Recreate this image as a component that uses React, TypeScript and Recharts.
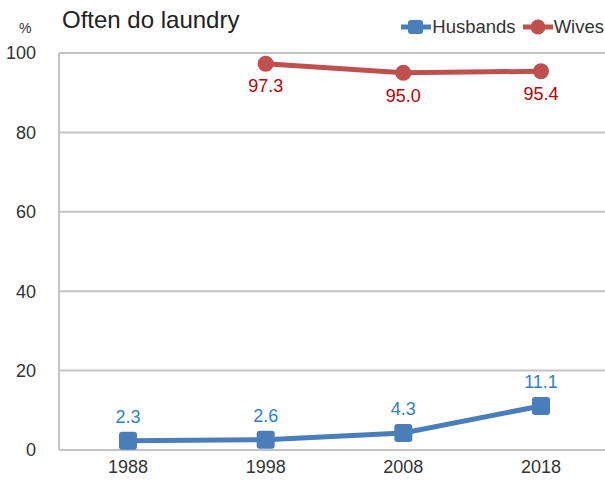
import React from "react";
import { CartesianGrid, LabelList, Line, LineChart, XAxis, YAxis } from "recharts";

const years = ["1988", "1998", "2008", "2018"];
const husbands = [2.3, 2.6, 4.3, 11.1];
const wives: (number | null)[] = [null, 97.3, 95.0, 95.4];
const yTicks = [0, 20, 40, 60, 80, 100];

const data = years.map((year, i) => ({ year, husbands: husbands[i], wives: wives[i] }));

const blue = "#4A7EBB";
const red = "#C0504D";
const font = "'Liberation Sans', Arial, sans-serif";

function SquareDot(props: any) {
  const { cx, cy } = props;
  if (cx == null || cy == null) return null;
  return <rect x={cx - 9} y={cy - 9} width={18} height={18} rx={3} fill={blue} />;
}

function LegendBox() {
  const item = (label: string, color: string, square: boolean) => (
    <span style={{ display: "inline-flex", alignItems: "center", marginLeft: 6 }}>
      <svg width={32} height={18}>
        <line x1={1} y1={9} x2={31} y2={9} stroke={color} strokeWidth={5} />
        {square ? (
          <rect x={8} y={2} width={15} height={14} rx={3} fill={color} />
        ) : (
          <circle cx={16} cy={9} r={7.5} fill={color} />
        )}
      </svg>
      <span>{label}</span>
    </span>
  );
  return (
    <div
      style={{
        position: "absolute",
        right: 1,
        top: 16,
        fontFamily: font,
        fontSize: 18.5,
        color: "#333",
        display: "flex",
      }}
    >
      {item("Husbands", blue, true)}
      {item("Wives", red, false)}
    </div>
  );
}

export default function App() {
  return (
    <div style={{ position: "absolute", left: 0, top: 0, width: 605, height: 484, background: "#fff", fontFamily: font }}>
      <div style={{ position: "absolute", left: 62, top: 6, fontSize: 24, color: "#222" }}>Often do laundry</div>
      <div style={{ position: "absolute", left: 19, top: 20, fontSize: 14, color: "#333" }}>%</div>
      <LegendBox />
      <LineChart width={605} height={484} data={data} margin={{ top: 53, right: 0, bottom: 0, left: 0 }}>
        <CartesianGrid vertical={false} stroke="#c4c4c4" strokeWidth={2} />
        <XAxis
          dataKey="year"
          scale="point"
          height={34}
          padding={{ left: 69, right: 64 }}
          axisLine={{ stroke: "#c4c4c4", strokeWidth: 2 }}
          tickLine={false}
          tickSize={0}
          tickMargin={10}
          tick={{ fontSize: 18, fill: "#333", fontFamily: font }}
        />
        <YAxis
          width={59}
          domain={[0, 100]}
          ticks={yTicks}
          axisLine={{ stroke: "#c4c4c4", strokeWidth: 2 }}
          tickLine={false}
          tickSize={0}
          tickMargin={23}
          tick={{ fontSize: 18, fill: "#333", fontFamily: font }}
        />
        <Line
          dataKey="husbands"
          stroke={blue}
          strokeWidth={5}
          dot={<SquareDot />}
          isAnimationActive={false}
        >
          <LabelList
            dataKey="husbands"
            position="top"
            offset={18}
            formatter={(v: any) => Number(v).toFixed(1)}
            style={{ fill: "#2F7FCC", fontSize: 18, fontFamily: font }}
          />
        </Line>
        <Line
          dataKey="wives"
          stroke={red}
          strokeWidth={5}
          dot={{ r: 8, fill: red, stroke: "none" }}
          isAnimationActive={false}
        >
          <LabelList
            dataKey="wives"
            position="bottom"
            offset={16}
            formatter={(v: any) => (v == null ? "" : Number(v).toFixed(1))}
            style={{ fill: "#C00000", fontSize: 18, fontFamily: font }}
          />
        </Line>
      </LineChart>
    </div>
  );
}
